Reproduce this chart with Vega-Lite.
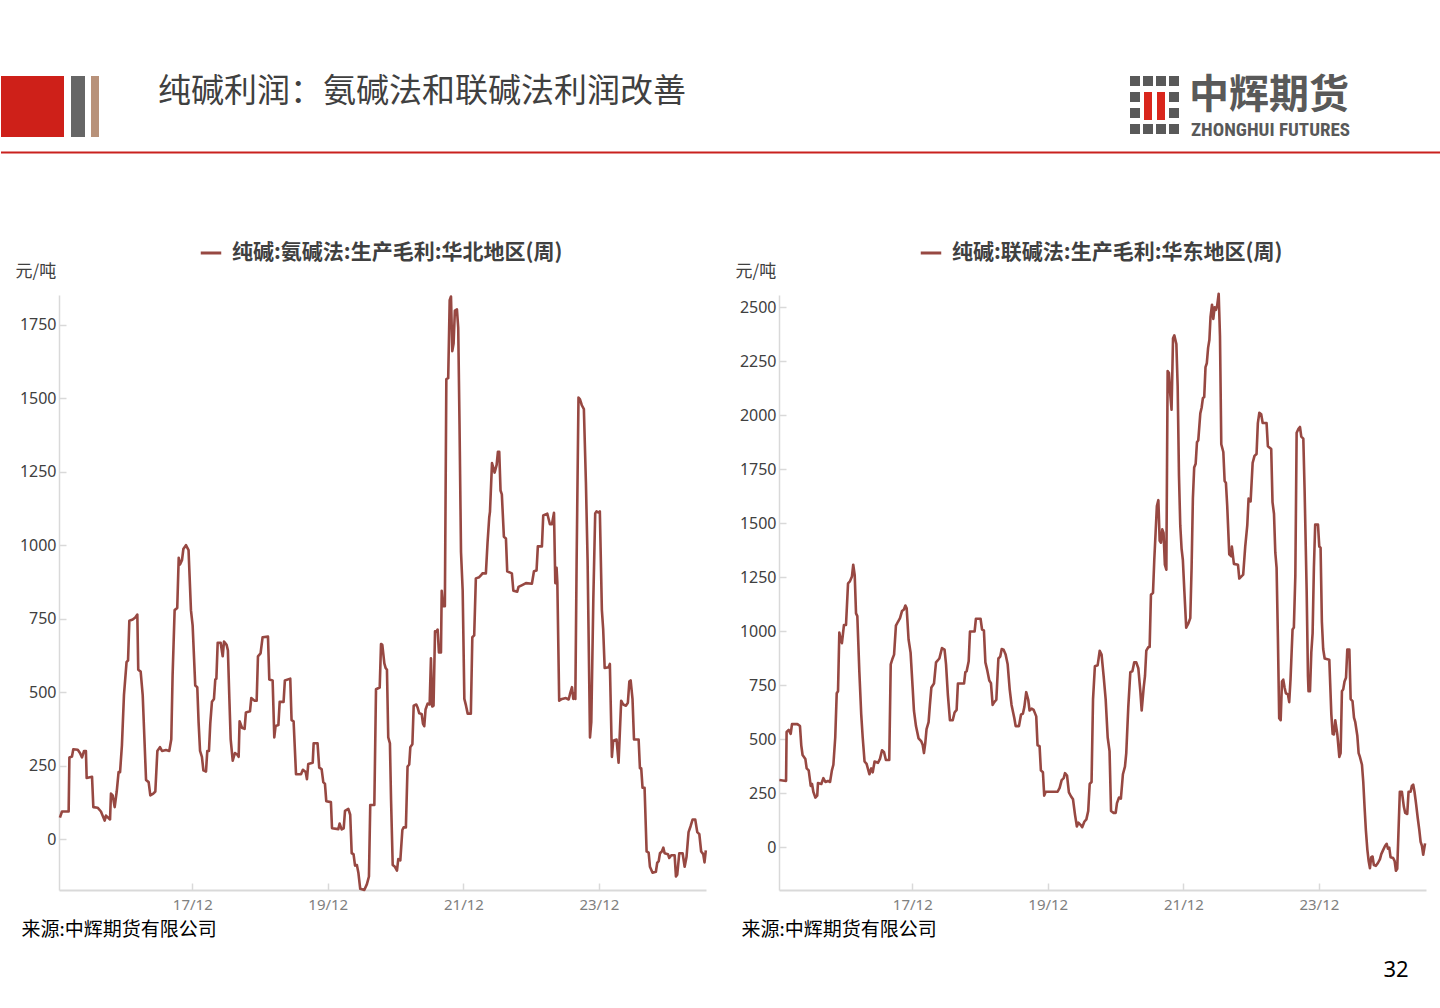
{
"$schema": "https://vega.github.io/schema/vega-lite/v6.json",
"background": "white",
"padding": 0,
"autosize": {"type": "pad"},
"bounds": "flush",
"spacing": 73,
"config": {"view": {"stroke": null}, "font": "Noto Sans CJK SC", "axis": {"grid": false}},
"datasets": {
"a": [
{"d":"2015-353","v":74},{"d":"2015-364","v":95},{"d":"2016-035","v":95},{"d":"2016-039","v":279},{"d":"2016-053","v":282},{"d":"2016-060","v":307},{"d":"2016-084","v":305},{"d":"2016-096","v":294},{"d":"2016-107","v":279},{"d":"2016-118","v":301},{"d":"2016-128","v":301},{"d":"2016-132","v":209},{"d":"2016-161","v":213},{"d":"2016-168","v":110},{"d":"2016-191","v":108},{"d":"2016-209","v":95},{"d":"2016-218","v":81},{"d":"2016-229","v":64},{"d":"2016-236","v":81},{"d":"2016-258","v":68},{"d":"2016-263","v":156},{"d":"2016-272","v":150},{"d":"2016-283","v":110},{"d":"2016-294","v":163},{"d":"2016-304","v":229},{"d":"2016-312","v":229},{"d":"2016-322","v":320},{"d":"2016-333","v":491},{"d":"2016-347","v":603},{"d":"2016-355","v":609},{"d":"2016-362","v":744},
{"d":"2017-014","v":748},{"d":"2017-028","v":755},{"d":"2017-039","v":765},{"d":"2017-044","v":577},{"d":"2017-057","v":571},{"d":"2017-068","v":491},{"d":"2017-077","v":347},{"d":"2017-086","v":202},{"d":"2017-100","v":195},{"d":"2017-109","v":150},{"d":"2017-125","v":156},{"d":"2017-136","v":163},{"d":"2017-147","v":301},{"d":"2017-161","v":314},{"d":"2017-172","v":301},{"d":"2017-193","v":304},{"d":"2017-211","v":301},{"d":"2017-222","v":341},{"d":"2017-229","v":557},{"d":"2017-240","v":780},{"d":"2017-254","v":787},{"d":"2017-262","v":958},{"d":"2017-269","v":935},{"d":"2017-280","v":951},{"d":"2017-287","v":988},{"d":"2017-301","v":1001},{"d":"2017-315","v":984},{"d":"2017-328","v":780},{"d":"2017-337","v":728},{"d":"2017-351","v":524},{"d":"2017-362","v":518},
{"d":"2018-004","v":400},{"d":"2018-012","v":301},{"d":"2018-022","v":281},{"d":"2018-030","v":235},{"d":"2018-044","v":231},{"d":"2018-051","v":301},{"d":"2018-060","v":301},{"d":"2018-067","v":394},{"d":"2018-076","v":468},{"d":"2018-087","v":478},{"d":"2018-094","v":544},{"d":"2018-100","v":547},{"d":"2018-107","v":669},{"d":"2018-123","v":669},{"d":"2018-134","v":623},{"d":"2018-141","v":673},{"d":"2018-155","v":662},{"d":"2018-162","v":643},{"d":"2018-170","v":478},{"d":"2018-177","v":340},{"d":"2018-188","v":268},{"d":"2018-200","v":294},{"d":"2018-213","v":288},{"d":"2018-220","v":281},{"d":"2018-225","v":402},{"d":"2018-238","v":380},{"d":"2018-252","v":376},{"d":"2018-259","v":432},{"d":"2018-281","v":436},{"d":"2018-288","v":481},{"d":"2018-306","v":472},{"d":"2018-317","v":472},{"d":"2018-324","v":623},{"d":"2018-338","v":633},{"d":"2018-349","v":688},
{"d":"2019-013","v":690},{"d":"2019-020","v":544},{"d":"2019-038","v":541},{"d":"2019-047","v":347},{"d":"2019-054","v":386},{"d":"2019-069","v":389},{"d":"2019-076","v":468},{"d":"2019-097","v":468},{"d":"2019-104","v":541},{"d":"2019-133","v":547},{"d":"2019-140","v":406},{"d":"2019-151","v":402},{"d":"2019-164","v":222},{"d":"2019-191","v":222},{"d":"2019-201","v":237},{"d":"2019-216","v":229},{"d":"2019-223","v":205},{"d":"2019-230","v":257},{"d":"2019-254","v":261},{"d":"2019-259","v":327},{"d":"2019-280","v":327},{"d":"2019-289","v":244},{"d":"2019-302","v":239},{"d":"2019-311","v":195},{"d":"2019-320","v":189},{"d":"2019-327","v":130},{"d":"2019-352","v":127},{"d":"2019-358","v":38},
{"d":"2020-027","v":35},{"d":"2020-034","v":54},{"d":"2020-045","v":34},{"d":"2020-056","v":38},{"d":"2020-063","v":97},{"d":"2020-081","v":104},{"d":"2020-091","v":84},{"d":"2020-099","v":-47},{"d":"2020-109","v":-50},{"d":"2020-117","v":-89},{"d":"2020-127","v":-87},{"d":"2020-135","v":-113},{"d":"2020-145","v":-168},{"d":"2020-167","v":-172},{"d":"2020-181","v":-152},{"d":"2020-192","v":-126},{"d":"2020-199","v":117},{"d":"2020-221","v":117},{"d":"2020-230","v":511},{"d":"2020-250","v":517},{"d":"2020-257","v":665},{"d":"2020-264","v":662},{"d":"2020-275","v":599},{"d":"2020-282","v":583},{"d":"2020-289","v":577},{"d":"2020-296","v":347},{"d":"2020-305","v":327},{"d":"2020-311","v":137},{"d":"2020-320","v":-87},{"d":"2020-332","v":-93},{"d":"2020-343","v":-106},{"d":"2020-350","v":-67},{"d":"2020-361","v":-71},
{"d":"2021-006","v":32},{"d":"2021-013","v":41},{"d":"2021-025","v":41},{"d":"2021-034","v":248},{"d":"2021-043","v":255},{"d":"2021-049","v":314},{"d":"2021-060","v":324},{"d":"2021-067","v":455},{"d":"2021-081","v":459},{"d":"2021-088","v":449},{"d":"2021-097","v":429},{"d":"2021-110","v":427},{"d":"2021-117","v":394},{"d":"2021-124","v":385},{"d":"2021-131","v":442},{"d":"2021-142","v":462},{"d":"2021-153","v":459},{"d":"2021-160","v":616},{"d":"2021-167","v":452},{"d":"2021-174","v":455},{"d":"2021-182","v":708},{"d":"2021-189","v":707},{"d":"2021-196","v":714},{"d":"2021-203","v":636},{"d":"2021-214","v":636},{"d":"2021-218","v":846},{"d":"2021-225","v":793},{"d":"2021-235","v":793},{"d":"2021-243","v":1566},{"d":"2021-253","v":1569},{"d":"2021-261","v":1834},{"d":"2021-268","v":1847},{"d":"2021-275","v":1661},{"d":"2021-282","v":1687},{"d":"2021-289","v":1799},{"d":"2021-300","v":1803},{"d":"2021-307","v":1740},{"d":"2021-314","v":1411},{"d":"2021-322","v":978},{"d":"2021-331","v":846},{"d":"2021-340","v":478},{"d":"2021-349","v":455},{"d":"2021-358","v":428},
{"d":"2022-010","v":428},{"d":"2022-018","v":688},{"d":"2022-028","v":694},{"d":"2022-037","v":888},{"d":"2022-055","v":892},{"d":"2022-064","v":898},{"d":"2022-072","v":905},{"d":"2022-091","v":905},{"d":"2022-100","v":1010},{"d":"2022-109","v":1095},{"d":"2022-113","v":1114},{"d":"2022-124","v":1280},{"d":"2022-138","v":1248},{"d":"2022-149","v":1274},{"d":"2022-156","v":1319},{"d":"2022-163","v":1319},{"d":"2022-170","v":1187},{"d":"2022-177","v":1174},{"d":"2022-188","v":1030},{"d":"2022-199","v":1024},{"d":"2022-206","v":912},{"d":"2022-231","v":905},{"d":"2022-239","v":846},{"d":"2022-260","v":843},{"d":"2022-267","v":859},{"d":"2022-289","v":866},{"d":"2022-307","v":872},{"d":"2022-339","v":870},{"d":"2022-350","v":912},{"d":"2022-364","v":915},
{"d":"2023-006","v":997},{"d":"2023-028","v":997},{"d":"2023-035","v":1102},{"d":"2023-057","v":1108},{"d":"2023-071","v":1072},{"d":"2023-082","v":1072},{"d":"2023-093","v":1111},{"d":"2023-100","v":872},{"d":"2023-107","v":924},{"d":"2023-111","v":875},{"d":"2023-121","v":472},{"d":"2023-136","v":478},{"d":"2023-157","v":481},{"d":"2023-172","v":476},{"d":"2023-179","v":494},{"d":"2023-190","v":518},{"d":"2023-197","v":478},{"d":"2023-204","v":498},{"d":"2023-208","v":478},{"d":"2023-215","v":951},{"d":"2023-225","v":1503},{"d":"2023-233","v":1497},{"d":"2023-243","v":1477},{"d":"2023-254","v":1464},{"d":"2023-265","v":1214},{"d":"2023-274","v":951},{"d":"2023-287","v":347},{"d":"2023-294","v":400},{"d":"2023-305","v":820},{"d":"2023-315","v":1109},{"d":"2023-322","v":1116},{"d":"2023-333","v":1112},{"d":"2023-340","v":1116},{"d":"2023-351","v":780},{"d":"2023-358","v":715},
{"d":"2024-001","v":583},{"d":"2024-022","v":586},{"d":"2024-029","v":597},{"d":"2024-040","v":281},{"d":"2024-047","v":336},{"d":"2024-065","v":340},{"d":"2024-076","v":261},{"d":"2024-090","v":472},{"d":"2024-101","v":459},{"d":"2024-116","v":455},{"d":"2024-126","v":465},{"d":"2024-134","v":537},{"d":"2024-141","v":541},{"d":"2024-151","v":478},{"d":"2024-159","v":340},{"d":"2024-184","v":340},{"d":"2024-191","v":242},{"d":"2024-198","v":242},{"d":"2024-205","v":176},{"d":"2024-216","v":176},{"d":"2024-227","v":-41},{"d":"2024-238","v":-45},{"d":"2024-245","v":-93},{"d":"2024-259","v":-113},{"d":"2024-277","v":-110},{"d":"2024-284","v":-80},{"d":"2024-292","v":-74},{"d":"2024-299","v":-47},{"d":"2024-309","v":-41},{"d":"2024-317","v":-28},{"d":"2024-324","v":-47},{"d":"2024-342","v":-50},{"d":"2024-349","v":-63},{"d":"2024-360","v":-54},
{"d":"2025-012","v":-54},{"d":"2025-019","v":-126},{"d":"2025-026","v":-120},{"d":"2025-037","v":-47},{"d":"2025-055","v":-47},{"d":"2025-066","v":-93},{"d":"2025-076","v":-60},{"d":"2025-087","v":25},{"d":"2025-098","v":45},{"d":"2025-109","v":68},{"d":"2025-123","v":68},{"d":"2025-134","v":25},{"d":"2025-145","v":18},{"d":"2025-155","v":-41},{"d":"2025-166","v":-50},{"d":"2025-173","v":-78},{"d":"2025-180","v":-37}
],
"b": [
{"d":"2015-350","v":311},{"d":"2016-021","v":307},{"d":"2016-024","v":534},{"d":"2016-035","v":543},{"d":"2016-046","v":525},{"d":"2016-053","v":570},{"d":"2016-082","v":570},{"d":"2016-096","v":561},{"d":"2016-103","v":472},{"d":"2016-110","v":427},{"d":"2016-125","v":409},{"d":"2016-132","v":365},{"d":"2016-143","v":356},{"d":"2016-154","v":284},{"d":"2016-161","v":293},{"d":"2016-168","v":257},{"d":"2016-179","v":230},{"d":"2016-189","v":239},{"d":"2016-193","v":297},{"d":"2016-211","v":293},{"d":"2016-222","v":320},{"d":"2016-233","v":302},{"d":"2016-247","v":307},{"d":"2016-258","v":302},{"d":"2016-268","v":356},{"d":"2016-276","v":382},{"d":"2016-286","v":508},{"d":"2016-294","v":713},{"d":"2016-301","v":722},{"d":"2016-308","v":994},{"d":"2016-315","v":963},{"d":"2016-322","v":945},{"d":"2016-333","v":1029},{"d":"2016-344","v":1029},{"d":"2016-355","v":1222},{"d":"2016-365","v":1231},
{"d":"2017-010","v":1254},{"d":"2017-017","v":1308},{"d":"2017-025","v":1258},{"d":"2017-032","v":1083},{"d":"2017-039","v":1070},{"d":"2017-050","v":811},{"d":"2017-060","v":615},{"d":"2017-068","v":508},{"d":"2017-078","v":397},{"d":"2017-089","v":386},{"d":"2017-104","v":338},{"d":"2017-114","v":365},{"d":"2017-122","v":347},{"d":"2017-132","v":397},{"d":"2017-150","v":391},{"d":"2017-161","v":409},{"d":"2017-172","v":449},{"d":"2017-183","v":440},{"d":"2017-193","v":404},{"d":"2017-211","v":404},{"d":"2017-219","v":847},{"d":"2017-229","v":874},{"d":"2017-237","v":892},{"d":"2017-247","v":1026},{"d":"2017-258","v":1044},{"d":"2017-269","v":1061},{"d":"2017-280","v":1094},{"d":"2017-290","v":1101},{"d":"2017-298","v":1119},{"d":"2017-305","v":1106},{"d":"2017-315","v":963},{"d":"2017-326","v":901},{"d":"2017-337","v":740},{"d":"2017-344","v":633},{"d":"2017-355","v":561},
{"d":"2018-004","v":504},{"d":"2018-019","v":490},{"d":"2018-026","v":475},{"d":"2018-033","v":436},{"d":"2018-040","v":481},{"d":"2018-047","v":547},{"d":"2018-058","v":579},{"d":"2018-065","v":659},{"d":"2018-073","v":740},{"d":"2018-087","v":758},{"d":"2018-098","v":856},{"d":"2018-116","v":874},{"d":"2018-130","v":922},{"d":"2018-144","v":915},{"d":"2018-152","v":847},{"d":"2018-162","v":704},{"d":"2018-173","v":588},{"d":"2018-188","v":588},{"d":"2018-198","v":624},{"d":"2018-209","v":636},{"d":"2018-216","v":758},{"d":"2018-249","v":758},{"d":"2018-256","v":811},{"d":"2018-263","v":815},{"d":"2018-274","v":861},{"d":"2018-281","v":999},{"d":"2018-306","v":999},{"d":"2018-313","v":1058},{"d":"2018-338","v":1058},{"d":"2018-346","v":1008},{"d":"2018-356","v":1004},{"d":"2018-364","v":856},
{"d":"2019-009","v":820},{"d":"2019-020","v":772},{"d":"2019-029","v":760},{"d":"2019-038","v":659},{"d":"2019-047","v":672},{"d":"2019-058","v":683},{"d":"2019-069","v":874},{"d":"2019-079","v":883},{"d":"2019-087","v":918},{"d":"2019-097","v":915},{"d":"2019-108","v":892},{"d":"2019-119","v":847},{"d":"2019-130","v":731},{"d":"2019-140","v":659},{"d":"2019-155","v":597},{"d":"2019-162","v":561},{"d":"2019-180","v":561},{"d":"2019-191","v":615},{"d":"2019-201","v":618},{"d":"2019-209","v":650},{"d":"2019-219","v":718},{"d":"2019-230","v":683},{"d":"2019-237","v":633},{"d":"2019-248","v":642},{"d":"2019-259","v":636},{"d":"2019-273","v":606},{"d":"2019-280","v":472},{"d":"2019-291","v":468},{"d":"2019-298","v":356},{"d":"2019-309","v":347},{"d":"2019-316","v":239},{"d":"2019-324","v":257},
{"d":"2020-023","v":257},{"d":"2020-034","v":275},{"d":"2020-045","v":311},{"d":"2020-056","v":320},{"d":"2020-063","v":343},{"d":"2020-074","v":332},{"d":"2020-084","v":254},{"d":"2020-095","v":236},{"d":"2020-106","v":222},{"d":"2020-117","v":150},{"d":"2020-127","v":96},{"d":"2020-135","v":114},{"d":"2020-145","v":105},{"d":"2020-156","v":93},{"d":"2020-167","v":118},{"d":"2020-178","v":129},{"d":"2020-188","v":168},{"d":"2020-196","v":293},{"d":"2020-206","v":302},{"d":"2020-214","v":686},{"d":"2020-224","v":838},{"d":"2020-239","v":843},{"d":"2020-250","v":910},{"d":"2020-260","v":892},{"d":"2020-271","v":793},{"d":"2020-282","v":686},{"d":"2020-293","v":508},{"d":"2020-303","v":445},{"d":"2020-311","v":168},{"d":"2020-325","v":159},{"d":"2020-336","v":159},{"d":"2020-343","v":204},{"d":"2020-354","v":230},{"d":"2020-364","v":225},
{"d":"2021-009","v":338},{"d":"2021-020","v":373},{"d":"2021-027","v":436},{"d":"2021-038","v":650},{"d":"2021-049","v":811},{"d":"2021-060","v":815},{"d":"2021-070","v":856},{"d":"2021-081","v":856},{"d":"2021-092","v":829},{"d":"2021-103","v":722},{"d":"2021-110","v":633},{"d":"2021-121","v":740},{"d":"2021-128","v":793},{"d":"2021-135","v":910},{"d":"2021-146","v":927},{"d":"2021-153","v":927},{"d":"2021-160","v":1169},{"d":"2021-171","v":1178},{"d":"2021-178","v":1330},{"d":"2021-185","v":1455},{"d":"2021-192","v":1580},{"d":"2021-200","v":1607},{"d":"2021-207","v":1419},{"d":"2021-214","v":1410},{"d":"2021-221","v":1472},{"d":"2021-228","v":1455},{"d":"2021-235","v":1308},{"d":"2021-243","v":1285},{"d":"2021-250","v":2205},{"d":"2021-257","v":2196},{"d":"2021-264","v":2098},{"d":"2021-271","v":2026},{"d":"2021-279","v":2357},{"d":"2021-286","v":2370},{"d":"2021-297","v":2330},{"d":"2021-304","v":2134},{"d":"2021-311","v":1723},{"d":"2021-318","v":1490},{"d":"2021-325","v":1383},{"d":"2021-332","v":1330},{"d":"2021-340","v":1187},{"d":"2021-350","v":1017},{"d":"2021-361","v":1035},
{"d":"2022-007","v":1061},{"d":"2022-014","v":1294},{"d":"2022-021","v":1615},{"d":"2022-028","v":1758},{"d":"2022-036","v":1776},{"d":"2022-043","v":1875},{"d":"2022-050","v":1884},{"d":"2022-061","v":2009},{"d":"2022-068","v":2035},{"d":"2022-075","v":2080},{"d":"2022-082","v":2084},{"d":"2022-089","v":2223},{"d":"2022-096","v":2241},{"d":"2022-103","v":2312},{"d":"2022-110","v":2350},{"d":"2022-116","v":2455},{"d":"2022-124","v":2512},{"d":"2022-131","v":2446},{"d":"2022-138","v":2500},{"d":"2022-145","v":2488},{"d":"2022-152","v":2509},{"d":"2022-160","v":2563},{"d":"2022-167","v":2366},{"d":"2022-174","v":1866},{"d":"2022-185","v":1830},{"d":"2022-192","v":1696},{"d":"2022-199","v":1687},{"d":"2022-206","v":1580},{"d":"2022-217","v":1356},{"d":"2022-228","v":1347},{"d":"2022-231","v":1392},{"d":"2022-242","v":1312},{"d":"2022-264","v":1308},{"d":"2022-271","v":1244},{"d":"2022-292","v":1262},{"d":"2022-303","v":1392},{"d":"2022-314","v":1490},{"d":"2022-321","v":1615},{"d":"2022-332","v":1601},{"d":"2022-343","v":1780},{"d":"2022-353","v":1812},{"d":"2022-364","v":1821},
{"d":"2023-006","v":1964},{"d":"2023-014","v":2012},{"d":"2023-024","v":2005},{"d":"2023-032","v":1964},{"d":"2023-053","v":1964},{"d":"2023-060","v":1857},{"d":"2023-078","v":1844},{"d":"2023-085","v":1598},{"d":"2023-093","v":1544},{"d":"2023-100","v":1365},{"d":"2023-107","v":1294},{"d":"2023-114","v":972},{"d":"2023-121","v":597},{"d":"2023-129","v":588},{"d":"2023-136","v":767},{"d":"2023-143","v":776},{"d":"2023-150","v":740},{"d":"2023-157","v":713},{"d":"2023-168","v":708},{"d":"2023-175","v":672},{"d":"2023-182","v":776},{"d":"2023-193","v":1008},{"d":"2023-200","v":1017},{"d":"2023-208","v":1258},{"d":"2023-215","v":1919},{"d":"2023-225","v":1937},{"d":"2023-233","v":1946},{"d":"2023-240","v":1901},{"d":"2023-251","v":1892},{"d":"2023-258","v":1651},{"d":"2023-269","v":1187},{"d":"2023-276","v":793},{"d":"2023-279","v":722},{"d":"2023-287","v":722},{"d":"2023-294","v":901},{"d":"2023-301","v":990},{"d":"2023-308","v":1294},{"d":"2023-315","v":1494},{"d":"2023-330","v":1494},{"d":"2023-337","v":1392},{"d":"2023-344","v":1387},{"d":"2023-351","v":1044},{"d":"2023-358","v":918},
{"d":"2024-001","v":874},{"d":"2024-026","v":868},{"d":"2024-037","v":615},{"d":"2024-044","v":525},{"d":"2024-051","v":522},{"d":"2024-058","v":588},{"d":"2024-069","v":525},{"d":"2024-080","v":418},{"d":"2024-087","v":436},{"d":"2024-094","v":722},{"d":"2024-101","v":731},{"d":"2024-108","v":767},{"d":"2024-116","v":785},{"d":"2024-123","v":915},{"d":"2024-134","v":915},{"d":"2024-141","v":686},{"d":"2024-151","v":677},{"d":"2024-159","v":600},{"d":"2024-166","v":579},{"d":"2024-177","v":516},{"d":"2024-184","v":436},{"d":"2024-191","v":418},{"d":"2024-202","v":382},{"d":"2024-209","v":302},{"d":"2024-216","v":186},{"d":"2024-223","v":79},{"d":"2024-231","v":-11},{"d":"2024-238","v":-64},{"d":"2024-245","v":-97},{"d":"2024-252","v":-46},{"d":"2024-259","v":-43},{"d":"2024-266","v":-82},{"d":"2024-277","v":-86},{"d":"2024-288","v":-73},{"d":"2024-299","v":-55},{"d":"2024-306","v":-32},{"d":"2024-317","v":-11},{"d":"2024-327","v":7},{"d":"2024-335","v":16},{"d":"2024-342","v":-7},{"d":"2024-349","v":-2},{"d":"2024-356","v":-46},
{"d":"2025-004","v":-50},{"d":"2025-012","v":-64},{"d":"2025-019","v":-109},{"d":"2025-026","v":-100},{"d":"2025-033","v":79},{"d":"2025-040","v":257},{"d":"2025-051","v":257},{"d":"2025-062","v":186},{"d":"2025-069","v":159},{"d":"2025-080","v":154},{"d":"2025-087","v":257},{"d":"2025-098","v":257},{"d":"2025-105","v":284},{"d":"2025-112","v":290},{"d":"2025-119","v":257},{"d":"2025-127","v":204},{"d":"2025-137","v":132},{"d":"2025-145","v":79},{"d":"2025-152","v":25},{"d":"2025-159","v":7},{"d":"2025-166","v":-35},{"d":"2025-176","v":18}
]
},
"hconcat": [
{
"width": 647, "height": 595,
"resolve": {"scale": {"x": "independent", "y": "independent", "color": "independent"}},
"layer": [
{
"data": {"name": "a", "format": {"parse": {"d": "date:'%Y-%j'"}}},
"mark": {"type": "line", "strokeWidth": 2.6, "strokeJoin": "round"},
"encoding": {
"x": {"field": "d", "type": "temporal",
 "scale": {"domain": [{"year": 2015, "month": 12, "date": 14}, {"year": 2025, "month": 6, "date": 30}]},
 "axis": {"values": [{"year": 2017, "month": 12, "date": 1}, {"year": 2019, "month": 12, "date": 1}, {"year": 2021, "month": 12, "date": 1}, {"year": 2023, "month": 12, "date": 1}],
  "format": "%y/%m", "labelFont": "Noto Sans", "labelFontSize": 15, "labelColor": "#808080", "labelPadding": 14, "labelFlush": false,
  "tickSize": -7, "tickColor": "#D9D9D9", "tickWidth": 1.5, "domainColor": "#D9D9D9", "domainWidth": 2,
  "title": "来源:中辉期货有限公司", "titleX": -38, "titleY": 39, "titleAlign": "left", "titleAnchor": "start", "titleBaseline": "middle",
  "titleFont": "Noto Sans CJK SC", "titleFontSize": 19, "titleFontWeight": "normal", "titleColor": "#000000"}},
"y": {"field": "v", "type": "quantitative",
 "scale": {"domain": [-172, 1852], "nice": false, "zero": false},
 "axis": {"values": [0, 250, 500, 750, 1000, 1250, 1500, 1750], "format": "d", "labelFont": "Noto Sans", "labelFontSize": 16, "labelColor": "#404040", "labelPadding": 10,
  "tickSize": -7, "tickColor": "#D9D9D9", "tickWidth": 1.5, "domainColor": "#D9D9D9", "domainWidth": 1.5,
  "title": "元/吨", "titleAngle": 0, "titleX": -44, "titleY": -24, "titleAlign": "left", "titleBaseline": "middle",
  "titleFont": "Noto Sans CJK SC", "titleFontSize": 17, "titleFontWeight": "normal", "titleColor": "#404040"}},
"color": {"datum": "纯碱:氨碱法:生产毛利:华北地区(周)", "scale": {"range": ["#974842"]},
 "legend": {"orient": "none", "legendX": 140, "legendY": -54, "title": null, "padding": 0, "symbolType": "stroke", "symbolStrokeWidth": 3, "symbolSize": 420,
  "labelFont": "Noto Sans CJK SC", "labelFontSize": 21, "labelFontWeight": "bold", "labelColor": "#404040", "labelOffset": 9, "labelLimit": 0}}
}
},
{
"data": {"values": [{}]},
"layer": [
{"mark": {"type": "rect", "fill": "white", "fillOpacity": 0},
 "encoding": {"x": {"datum": 0, "type": "quantitative", "scale": {"domain": [58, 705], "nice": false, "zero": false}, "axis": null}, "x2": {"datum": 1440},
  "y": {"datum": 0, "type": "quantitative", "scale": {"domain": [295, 890], "reverse": true, "nice": false, "zero": false}, "axis": null}, "y2": {"datum": 1008}}},
{"mark": {"type": "rect", "fill": "#CE2019"},
 "encoding": {"x": {"datum": 0, "type": "quantitative", "scale": {"domain": [58, 705], "nice": false, "zero": false}, "axis": null}, "x2": {"datum": 63},
  "y": {"datum": 76, "type": "quantitative", "scale": {"domain": [295, 890], "reverse": true, "nice": false, "zero": false}, "axis": null}, "y2": {"datum": 137}}},
{"mark": {"type": "rect", "fill": "#666666"},
 "encoding": {"x": {"datum": 70, "type": "quantitative", "scale": {"domain": [58, 705], "nice": false, "zero": false}, "axis": null}, "x2": {"datum": 84},
  "y": {"datum": 76, "type": "quantitative", "scale": {"domain": [295, 890], "reverse": true, "nice": false, "zero": false}, "axis": null}, "y2": {"datum": 137}}},
{"mark": {"type": "rect", "fill": "#B8927A"},
 "encoding": {"x": {"datum": 90, "type": "quantitative", "scale": {"domain": [58, 705], "nice": false, "zero": false}, "axis": null}, "x2": {"datum": 98},
  "y": {"datum": 76, "type": "quantitative", "scale": {"domain": [295, 890], "reverse": true, "nice": false, "zero": false}, "axis": null}, "y2": {"datum": 137}}},
{"mark": {"type": "text", "text": "纯碱利润：氨碱法和联碱法利润改善", "align": "left", "baseline": "middle", "font": "Noto Sans CJK SC", "fontSize": 33, "fontWeight": "normal", "color": "#404040"},
 "encoding": {"x": {"datum": 157, "type": "quantitative", "scale": {"domain": [58, 705], "nice": false, "zero": false}, "axis": null},
  "y": {"datum": 92, "type": "quantitative", "scale": {"domain": [295, 890], "reverse": true, "nice": false, "zero": false}, "axis": null}}},
{"mark": {"type": "rule", "color": "#C9211E", "strokeWidth": 2},
 "encoding": {"x": {"datum": 0, "type": "quantitative", "scale": {"domain": [58, 705], "nice": false, "zero": false}, "axis": null}, "x2": {"datum": 1440},
  "y": {"datum": 152.5, "type": "quantitative", "scale": {"domain": [295, 890], "reverse": true, "nice": false, "zero": false}, "axis": null}}},
{"mark": {"type": "rule", "color": "#595959", "strokeWidth": 10, "strokeDash": [10, 3]},
 "encoding": {"x": {"datum": 1129, "type": "quantitative", "scale": {"domain": [58, 705], "nice": false, "zero": false}, "axis": null}, "x2": {"datum": 1178},
  "y": {"datum": 81, "type": "quantitative", "scale": {"domain": [295, 890], "reverse": true, "nice": false, "zero": false}, "axis": null}}},
{"mark": {"type": "rule", "color": "#595959", "strokeWidth": 10, "strokeDash": [10, 3]},
 "encoding": {"x": {"datum": 1129, "type": "quantitative", "scale": {"domain": [58, 705], "nice": false, "zero": false}, "axis": null}, "x2": {"datum": 1178},
  "y": {"datum": 129, "type": "quantitative", "scale": {"domain": [295, 890], "reverse": true, "nice": false, "zero": false}, "axis": null}}},
{"mark": {"type": "rule", "color": "#595959", "strokeWidth": 10, "strokeDash": [10, 6]},
 "encoding": {"x": {"datum": 1134, "type": "quantitative", "scale": {"domain": [58, 705], "nice": false, "zero": false}, "axis": null},
  "y": {"datum": 92, "type": "quantitative", "scale": {"domain": [295, 890], "reverse": true, "nice": false, "zero": false}, "axis": null}, "y2": {"datum": 118}}},
{"mark": {"type": "rule", "color": "#595959", "strokeWidth": 10, "strokeDash": [10, 6]},
 "encoding": {"x": {"datum": 1173, "type": "quantitative", "scale": {"domain": [58, 705], "nice": false, "zero": false}, "axis": null},
  "y": {"datum": 92, "type": "quantitative", "scale": {"domain": [295, 890], "reverse": true, "nice": false, "zero": false}, "axis": null}, "y2": {"datum": 118}}},
{"mark": {"type": "rule", "color": "#D9261C", "strokeWidth": 8},
 "encoding": {"x": {"datum": 1147, "type": "quantitative", "scale": {"domain": [58, 705], "nice": false, "zero": false}, "axis": null},
  "y": {"datum": 92, "type": "quantitative", "scale": {"domain": [295, 890], "reverse": true, "nice": false, "zero": false}, "axis": null}, "y2": {"datum": 120}}},
{"mark": {"type": "rule", "color": "#D9261C", "strokeWidth": 8},
 "encoding": {"x": {"datum": 1160, "type": "quantitative", "scale": {"domain": [58, 705], "nice": false, "zero": false}, "axis": null},
  "y": {"datum": 92, "type": "quantitative", "scale": {"domain": [295, 890], "reverse": true, "nice": false, "zero": false}, "axis": null}, "y2": {"datum": 120}}},
{"mark": {"type": "text", "text": "中辉期货", "align": "left", "baseline": "middle", "font": "Noto Sans CJK SC", "fontSize": 40, "fontWeight": "bold", "color": "#595959"},
 "encoding": {"x": {"datum": 1188, "type": "quantitative", "scale": {"domain": [58, 705], "nice": false, "zero": false}, "axis": null},
  "y": {"datum": 96, "type": "quantitative", "scale": {"domain": [295, 890], "reverse": true, "nice": false, "zero": false}, "axis": null}}},
{"mark": {"type": "text", "text": "ZHONGHUI FUTURES", "align": "left", "baseline": "middle", "font": "Liberation Sans Narrow, Roboto Condensed, Liberation Sans", "fontSize": 19, "fontWeight": "bold", "color": "#595959"},
 "encoding": {"x": {"datum": 1190, "type": "quantitative", "scale": {"domain": [58, 705], "nice": false, "zero": false}, "axis": null},
  "y": {"datum": 129.5, "type": "quantitative", "scale": {"domain": [295, 890], "reverse": true, "nice": false, "zero": false}, "axis": null}}},
{"mark": {"type": "text", "text": "32", "align": "center", "baseline": "middle", "font": "Noto Sans", "fontSize": 22, "color": "#000000"},
 "encoding": {"x": {"datum": 1395, "type": "quantitative", "scale": {"domain": [58, 705], "nice": false, "zero": false}, "axis": null},
  "y": {"datum": 970, "type": "quantitative", "scale": {"domain": [295, 890], "reverse": true, "nice": false, "zero": false}, "axis": null}}}
]
}
]
},
{
"width": 647, "height": 595,
"data": {"name": "b", "format": {"parse": {"d": "date:'%Y-%j'"}}},
"mark": {"type": "line", "strokeWidth": 2.6, "strokeJoin": "round"},
"encoding": {
"x": {"field": "d", "type": "temporal",
 "scale": {"domain": [{"year": 2015, "month": 12, "date": 14}, {"year": 2025, "month": 6, "date": 30}]},
 "axis": {"values": [{"year": 2017, "month": 12, "date": 1}, {"year": 2019, "month": 12, "date": 1}, {"year": 2021, "month": 12, "date": 1}, {"year": 2023, "month": 12, "date": 1}],
  "format": "%y/%m", "labelFont": "Noto Sans", "labelFontSize": 15, "labelColor": "#808080", "labelPadding": 14, "labelFlush": false,
  "tickSize": -7, "tickColor": "#D9D9D9", "tickWidth": 1.5, "domainColor": "#D9D9D9", "domainWidth": 2,
  "title": "来源:中辉期货有限公司", "titleX": -38, "titleY": 39, "titleAlign": "left", "titleAnchor": "start", "titleBaseline": "middle",
  "titleFont": "Noto Sans CJK SC", "titleFontSize": 19, "titleFontWeight": "normal", "titleColor": "#000000"}},
"y": {"field": "v", "type": "quantitative",
 "scale": {"domain": [-198, 2557], "nice": false, "zero": false},
 "axis": {"values": [0, 250, 500, 750, 1000, 1250, 1500, 1750, 2000, 2250, 2500], "format": "d", "labelFont": "Noto Sans", "labelFontSize": 16, "labelColor": "#404040", "labelPadding": 10,
  "tickSize": -7, "tickColor": "#D9D9D9", "tickWidth": 1.5, "domainColor": "#D9D9D9", "domainWidth": 1.5,
  "title": "元/吨", "titleAngle": 0, "titleX": -44, "titleY": -24, "titleAlign": "left", "titleBaseline": "middle",
  "titleFont": "Noto Sans CJK SC", "titleFontSize": 17, "titleFontWeight": "normal", "titleColor": "#404040"}},
"color": {"datum": "纯碱:联碱法:生产毛利:华东地区(周)", "scale": {"range": ["#974842"]},
 "legend": {"orient": "none", "legendX": 140, "legendY": -54, "title": null, "padding": 0, "symbolType": "stroke", "symbolStrokeWidth": 3, "symbolSize": 420,
  "labelFont": "Noto Sans CJK SC", "labelFontSize": 21, "labelFontWeight": "bold", "labelColor": "#404040", "labelOffset": 9, "labelLimit": 0}}
}
}
],
"resolve": {"scale": {"color": "independent"}, "legend": {"color": "independent"}}
}
